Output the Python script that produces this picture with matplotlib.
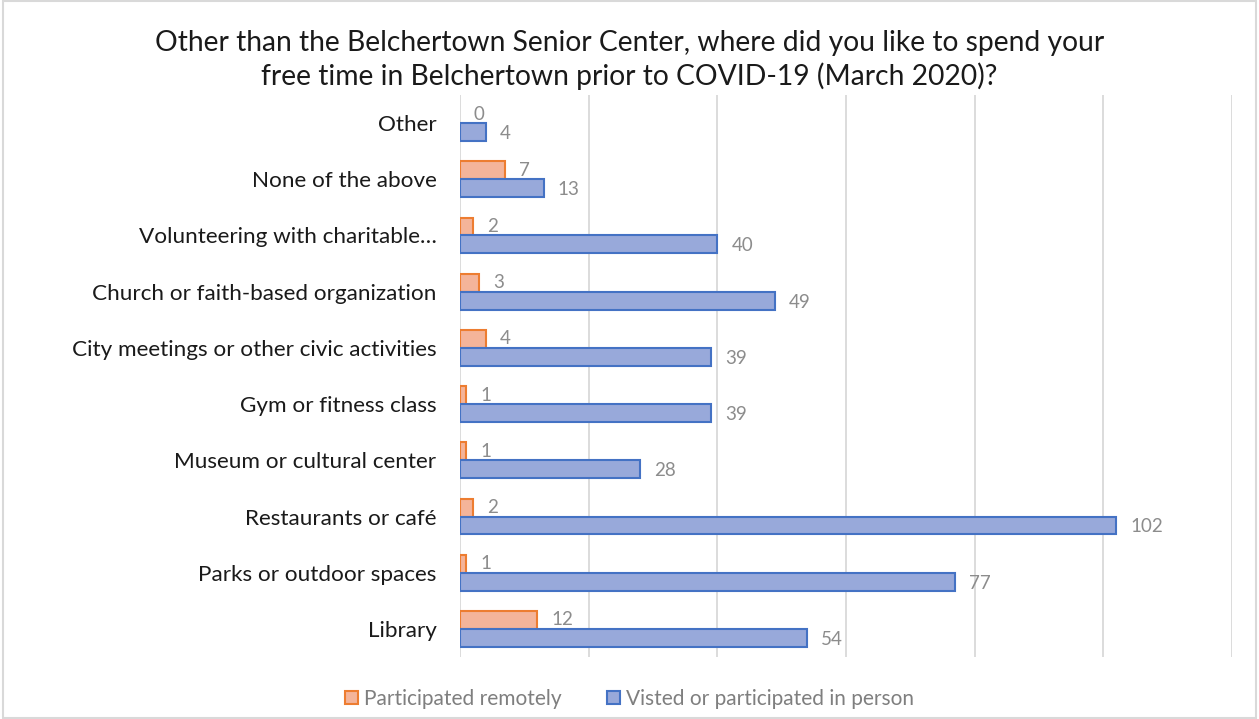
import matplotlib.pyplot as plt
from matplotlib.patches import Rectangle

# survey categories, bottom to top as drawn
categories = ['Library', 'Parks or outdoor spaces', 'Restaurants or café',
              'Museum or cultural center', 'Gym or fitness class',
              'City meetings or other civic activities',
              'Church or faith-based organization',
              'Volunteering with charitable…', 'None of the above', 'Other']
remote = [12, 1, 2, 1, 1, 4, 3, 2, 7, 0]
in_person = [54, 77, 102, 28, 39, 39, 49, 40, 13, 4]

plt.rcParams['font.family'] = ['Lato', 'DejaVu Sans']

fig = plt.figure(figsize=(12.59, 7.19), dpi=100)
ax = fig.add_axes([0.3654, 0.0862, 0.6132, 0.7817])

pos = list(range(len(categories)))
h = 0.32
orange_fill, orange_edge = '#F4B49A', '#ED7D31'
blue_fill, blue_edge = '#98A9DA', '#4472C4'

# no outline for empty bars
lw_remote = [1.5 if r > 0 else 0 for r in remote]
ax.barh([p + h / 2 for p in pos], remote, height=h, color=orange_fill,
        edgecolor=orange_edge, linewidth=lw_remote, label='Participated remotely', zorder=3)
ax.barh([p - h / 2 for p in pos], in_person, height=h, color=blue_fill,
        edgecolor=blue_edge, linewidth=1.5, label='Visted or participated in person', zorder=3)

# data labels
for p, r, v in zip(pos, remote, in_person):
    ax.annotate(str(r), (r, p + h / 2), xytext=(10, 0), textcoords='offset points',
                ha='left', va='center', fontsize=13.5, color='#8C8C8C')
    ax.annotate(str(v), (v, p - h / 2), xytext=(10, -1), textcoords='offset points',
                ha='left', va='center', fontsize=13.5, color='#8C8C8C')

ax.set_xlim(0, 120)
ax.set_ylim(-0.5, len(categories) - 0.5)
ax.set_xticks(range(0, 121, 20))
ax.set_xticklabels([])
ax.set_yticks(pos)
ax.set_yticklabels(categories, fontsize=16.2, color='#1A1A1A')
ax.tick_params(axis='both', length=0)
ax.tick_params(axis='y', pad=17)
ax.grid(axis='x', color='#D9D9D9', linewidth=1.3, zorder=0)
for s in ax.spines.values():
    s.set_visible(False)

fig.suptitle('Other than the Belchertown Senior Center, where did you like to spend your\n'
             'free time in Belchertown prior to COVID-19 (March 2020)?',
             x=0.5, y=0.958, fontsize=20.3, color='#1A1A1A', linespacing=1.27)

fig.legend(loc='lower center', bbox_to_anchor=(0.5, -0.012), ncol=2, frameon=False,
           fontsize=15, labelcolor='#7F7F7F', handlelength=0.6, handleheight=0.6,
           columnspacing=2.2, handletextpad=0.3)

# outer frame
fig.patches.append(Rectangle((0.002, 0.002), 0.996, 0.996, transform=fig.transFigure,
                             fill=False, edgecolor='#D9D9D9', linewidth=1.5))

fig.savefig('out.png', dpi=100)
